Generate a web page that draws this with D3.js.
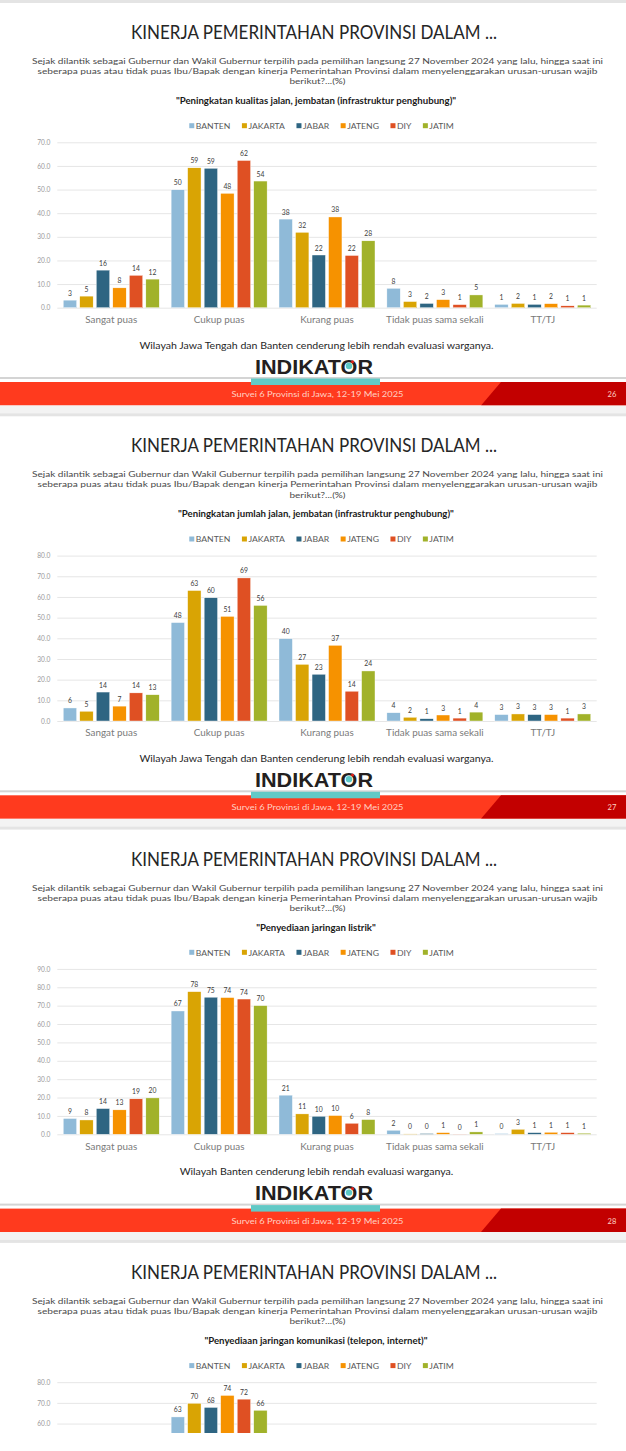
<!DOCTYPE html>
<html><head><meta charset="utf-8">
<script src="https://cdn.jsdelivr.net/npm/d3@7"></script>
<style>html,body{margin:0;padding:0;background:#fff;overflow:hidden}svg{display:block}</style>
</head><body>
<svg id="c" width="626" height="1451"></svg>
<script>
// ---------- DATA ----------
const categories = ["Sangat puas", "Cukup puas", "Kurang puas", "Tidak puas sama sekali", "TT/TJ"];
const regions = ["BANTEN", "JAKARTA", "JABAR", "JATENG", "DIY", "JATIM"];

// rows = categories, columns = regions (BANTEN, JAKARTA, JABAR, JATENG, DIY, JATIM)
const kualitasJalan = [
  [3.2, 4.9, 15.9, 8.4, 13.7, 12.1],
  [49.9, 59.2, 59.0, 48.4, 62.3, 53.6],
  [37.5, 31.9, 22.3, 38.4, 22.1, 28.3],
  [8.2, 2.6, 1.8, 3.4, 1.3, 5.4],
  [1.4, 1.8, 1.4, 1.7, 0.8, 1.1]
];
const jumlahJalan = [
  [6.3, 4.7, 14.0, 7.2, 13.6, 12.7],
  [47.6, 63.1, 59.6, 50.6, 69.2, 55.9],
  [39.8, 27.4, 22.6, 36.6, 14.4, 24.2],
  [4.0, 1.8, 1.1, 2.9, 1.4, 4.3],
  [3.1, 3.4, 3.1, 3.1, 1.4, 3.4]
];
const jaringanListrik = [
  [8.6, 7.8, 14.0, 13.3, 19.3, 19.8],
  [67.1, 77.6, 74.6, 74.4, 73.6, 70.0],
  [21.3, 11.1, 9.8, 10.2, 6.0, 8.0],
  [2.2, 0.2, 0.4, 0.9, 0.1, 1.3],
  [0.4, 2.7, 0.9, 1.1, 0.9, 0.6]
];
// only the "Cukup puas" group is visible in the cropped last slide
const jaringanKomunikasi = [
  [null, null, null, null, null, null],
  [63.2, 69.8, 67.8, 73.6, 71.8, 66.4],
  [null, null, null, null, null, null],
  [null, null, null, null, null, null],
  [null, null, null, null, null, null]
];

const yTicks70 = [0, 10, 20, 30, 40, 50, 60, 70];
const yTicks80 = [0, 10, 20, 30, 40, 50, 60, 70, 80];
const yTicks90 = [0, 10, 20, 30, 40, 50, 60, 70, 80, 90];

const slideData = [kualitasJalan, jumlahJalan, jaringanListrik, jaringanKomunikasi];
const slideTicks = [yTicks70, yTicks80, yTicks90, yTicks80];
const slideQuotes = [
  "\"Peningkatan kualitas jalan, jembatan (infrastruktur penghubung)\"",
  "\"Peningkatan jumlah jalan, jembatan (infrastruktur penghubung)\"",
  "\"Penyediaan jaringan listrik\"",
  "\"Penyediaan jaringan komunikasi (telepon, internet)\""
];
const slideNotes = [
  "Wilayah Jawa Tengah dan Banten cenderung lebih rendah evaluasi warganya.",
  "Wilayah Jawa Tengah dan Banten cenderung lebih rendah evaluasi warganya.",
  "Wilayah Banten cenderung lebih rendah evaluasi warganya.",
  ""
];
const slidePages = ["26", "27", "28", "29"];

const titleText = "KINERJA PEMERINTAHAN PROVINSI DALAM ...";
const subtitleLines = [
  "Sejak dilantik sebagai Gubernur dan Wakil Gubernur terpilih pada pemilihan langsung 27 November 2024 yang lalu, hingga saat ini",
  "seberapa puas atau tidak puas Ibu/Bapak  dengan kinerja Pemerintahan Provinsi dalam menyelenggarakan urusan-urusan wajib",
  "berikut?...(%)"
];
const footerText = "Survei 6 Provinsi di Jawa, 12-19 Mei 2025";
const logoText = "INDIKATOR";

// ---------- STYLE ----------
const regionColors = ["#8fbad8", "#d9a404", "#2e6582", "#f69200", "#df5023", "#a1b22a"];
const FONT = "Lato, 'Open Sans', sans-serif";
const PITCH = 413.3;
const VISIBLE_BOTTOM = 1433; // the reference image is blank below this line

const svg = d3.select("#c");
svg.append("rect").attr("width", 626).attr("height", 1451).attr("fill", "#fff");
svg.append("defs").append("clipPath").attr("id", "pageclip")
  .append("rect").attr("x", 0).attr("y", 0).attr("width", 626).attr("height", VISIBLE_BOTTOM);

const x0 = d3.scaleBand().domain(categories).range([57.3, 596.7]).paddingInner(0).paddingOuter(0);
const x1 = d3.scaleBand().domain(regions).range([0, x0.bandwidth()]).paddingInner(0.19).paddingOuter(0.36);
const color = d3.scaleOrdinal().domain(regions).range(regionColors);

function widen(sel, f) {
  sel.each(function () {
    const n = this, w = n.getComputedTextLength();
    if (w > 0) d3.select(n).attr("textLength", w * f).attr("lengthAdjust", "spacingAndGlyphs");
  });
}

const root = svg.append("g").attr("clip-path", "url(#pageclip)");

slideData.forEach((data, si) => {
  const off = si * PITCH;
  const vis = yy => off + yy < VISIBLE_BOTTOM - 2; // draw only what the reference still shows
  const g = root.append("g").attr("transform", `translate(0,${off})`);

  g.append("rect").attr("x", 0).attr("y", 0).attr("width", 626).attr("height", 3).attr("fill", "#e4e4e4");

  g.append("text").attr("x", 314).attr("y", 39).attr("text-anchor", "middle")
    .attr("font-family", FONT).attr("font-size", 20).attr("fill", "#262626")
    .attr("textLength", 366).attr("lengthAdjust", "spacingAndGlyphs").text(titleText);

  const subW = [571, 560, 56];
  subtitleLines.forEach((t, i) => {
    g.append("text").attr("x", 317.5).attr("y", 64 + i * 10.2).attr("text-anchor", "middle")
      .attr("font-family", FONT).attr("font-size", 8.4).attr("fill", "#4a4a4a")
      .attr("textLength", subW[i]).attr("lengthAdjust", "spacingAndGlyphs").text(t);
  });

  g.append("text").attr("x", 316).attr("y", 104).attr("text-anchor", "middle")
    .attr("font-family", FONT).attr("font-size", 8.6).attr("font-weight", "bold").attr("fill", "#1a1a1a")
    .text(slideQuotes[si]).call(widen, 1.12);

  // legend
  const leg = g.append("g").attr("transform", "translate(0,126)");
  const items = leg.selectAll("g.item").data(regions).join("g").attr("class", "item");
  items.append("rect").attr("y", -2.8).attr("width", 5).attr("height", 5).attr("fill", d => color(d));
  items.append("text").attr("x", 6.5).attr("y", 3).attr("font-family", FONT).attr("font-size", 8)
    .attr("fill", "#595959").text(d => d).call(widen, 1.08);
  let cx = 0; const pos = [];
  items.each(function () {
    const t = d3.select(this).select("text");
    const w = +t.attr("textLength") || t.node().getComputedTextLength();
    pos.push(cx); cx += 6.5 + w + 11.5;
  });
  const totalW = cx - 11.5, startX = 321.5 - totalW / 2;
  items.attr("transform", (d, i) => `translate(${startX + pos[i]},0)`);

  // y axis / grid
  const ticks = slideTicks[si];
  const y = d3.scaleLinear().domain([0, d3.max(ticks)]).range([307.7, 142.3]);
  const shownTicks = ticks.filter(t => vis(y(t) + 4));
  const yAxis = g.append("g").attr("transform", "translate(57.3,0)")
    .call(d3.axisLeft(y).tickValues(shownTicks).tickFormat(d3.format(".1f")).tickSize(-539.4).tickPadding(7));
  yAxis.select(".domain").remove();
  yAxis.selectAll(".tick line").attr("stroke", "#e6e6e6").attr("stroke-width", 1);
  yAxis.selectAll(".tick text").attr("font-family", FONT).attr("font-size", 6.6).attr("fill", "#9a9a9a");

  // bars
  const groups = g.append("g").selectAll("g").data(categories).join("g")
    .attr("transform", d => `translate(${x0(d)},0)`);
  const cells = groups.selectAll("g")
    .data((c, ci) => regions.map((r, ri) => ({ r, v: data[ci][ri] })).filter(d => d.v !== null))
    .join("g");
  cells.append("rect")
    .attr("x", d => x1(d.r)).attr("width", x1.bandwidth())
    .attr("y", d => y(d.v)).attr("height", d => y(0) - y(d.v))
    .attr("fill", d => color(d.r)).attr("stroke", "#fff").attr("stroke-width", 0.4);
  cells.filter(d => vis(y(d.v) - 4)).append("text")
    .attr("x", d => x1(d.r) + x1.bandwidth() / 2).attr("y", d => y(d.v) - 4.5)
    .attr("text-anchor", "middle").attr("font-family", FONT).attr("font-size", 6.8).attr("fill", "#404040")
    .text(d => d3.format(".0f")(d.v));

  if (!vis(325)) return; // the rest of the last slide lies below the picture

  const xAxis = g.append("g").attr("transform", "translate(0,307.7)")
    .call(d3.axisBottom(x0).tickSize(0).tickPadding(9));
  xAxis.select(".domain").remove();
  xAxis.selectAll(".tick text").attr("font-family", FONT).attr("font-size", 8.8).attr("fill", "#7a7a7a")
    .call(widen, 1.12);

  if (slideNotes[si]) {
    g.append("text").attr("x", 316.5).attr("y", 348.5).attr("text-anchor", "middle")
      .attr("font-family", FONT).attr("font-size", 8.8).attr("fill", "#262626").text(slideNotes[si])
      .call(widen, 1.2);
  }

  // footer
  g.append("rect").attr("x", 0).attr("y", 377).attr("width", 626).attr("height", 2).attr("fill", "#d4d4d4");
  g.append("rect").attr("x", 0).attr("y", 382).attr("width", 626).attr("height", 23.5).attr("fill", "#ff3a1e");
  g.append("path").attr("d", "M501,382 L626,382 L626,405.5 L481,405.5 Z").attr("fill", "#c20000");
  g.append("rect").attr("x", 0).attr("y", 405.5).attr("width", 626).attr("height", 8).attr("fill", "#f3f3f3");

  // logo
  const logo = g.append("text").attr("x", 314).attr("y", 373.5).attr("text-anchor", "middle")
    .attr("font-family", "'Liberation Sans', Arial, sans-serif").attr("font-weight", "bold")
    .attr("font-size", 20.5).attr("fill", "#231f20")
    .attr("textLength", 118).attr("lengthAdjust", "spacingAndGlyphs").text(logoText);
  try {
    const ext = logo.node().getExtentOfChar(7);
    const ocx = ext.x + ext.width / 2, ocy = 366;
    g.append("circle").attr("cx", ocx).attr("cy", ocy).attr("r", 3.2).attr("fill", "#5cc8c6");
    g.append("circle").attr("cx", ocx + 3.6).attr("cy", ocy - 4.2).attr("r", 1.5).attr("fill", "#e2231a");
  } catch (e) {}
  g.append("rect").attr("x", 251).attr("y", 378.5).attr("width", 129).attr("height", 6.5).attr("fill", "#62c9c6");

  g.append("text").attr("x", 317.5).attr("y", 397).attr("text-anchor", "middle")
    .attr("font-family", FONT).attr("font-size", 7.6).attr("fill", "#ffd2c4")
    .attr("textLength", 172).attr("lengthAdjust", "spacingAndGlyphs").text(footerText);
  g.append("text").attr("x", 612).attr("y", 397).attr("text-anchor", "middle")
    .attr("font-family", FONT).attr("font-size", 7.6).attr("fill", "#ffd2c4").text(slidePages[si]);
});
</script>
</body></html>
